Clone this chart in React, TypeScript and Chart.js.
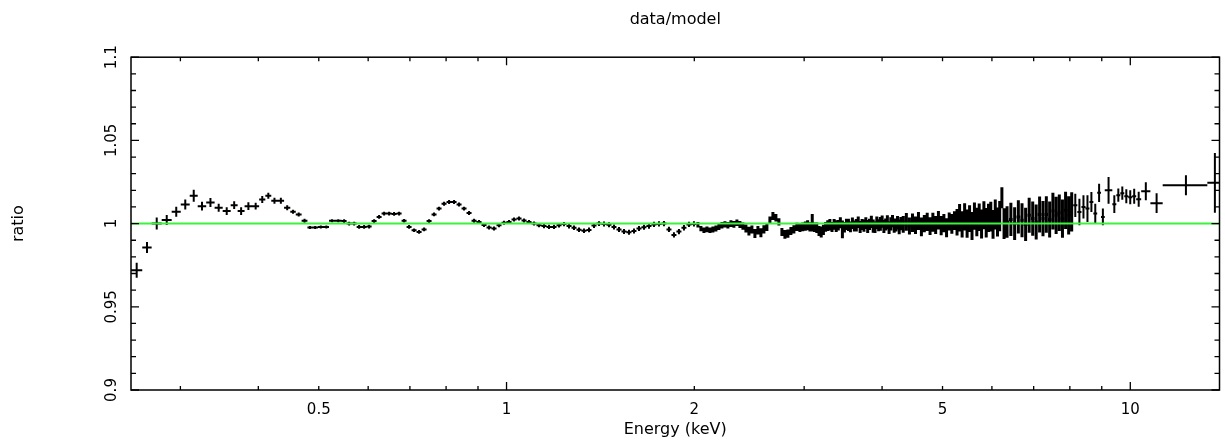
import { useEffect, useRef } from "react";
import { Chart, registerables } from "chart.js";

Chart.register(...registerables);

// ---------- data: bin edges (keV), data/model ratio, 1-sigma error ----------
const edgesLow = [0.25, 0.2606, 0.2698, 0.28, 0.2905, 0.3004, 0.3105, 0.3198, 0.33, 0.3404, 0.3507, 0.3612, 0.3706, 0.3802, 0.391, 0.4012, 0.4105, 0.4196, 0.4295, 0.4399, 0.4501, 0.4593, 0.4693, 0.4795, 0.4884, 0.4984, 0.5091, 0.5193, 0.5307, 0.544];
const ratioLow = [0.972, 0.9856, 1.0, 1.0021, 1.0071, 1.0115, 1.0167, 1.0105, 1.0127, 1.0095, 1.0075, 1.0111, 1.0075, 1.0105, 1.0105, 1.0145, 1.0167, 1.0137, 1.0137, 1.0095, 1.0071, 1.0055, 1.0017, 0.9977, 0.9977, 0.998, 0.998, 1.0017, 1.0017];
const errLow = [0.0045, 0.0033, 0.0036, 0.003, 0.003, 0.003, 0.0036, 0.0027, 0.0027, 0.0024, 0.0024, 0.0024, 0.0024, 0.0024, 0.0021, 0.0021, 0.0018, 0.0018, 0.0018, 0.0015, 0.0012, 0.0012, 0.0012, 0.0009, 0.0009, 0.0009, 0.0009, 0.0009, 0.0009];

const edgesSoft = [0.544, 0.5541, 0.5645, 0.575, 0.5857, 0.5966, 0.6077, 0.619, 0.6305, 0.6423, 0.6542, 0.6664, 0.6788, 0.6914, 0.7043, 0.7174, 0.7308, 0.7444, 0.7582, 0.7723, 0.7867, 0.8014, 0.8163, 0.8315, 0.847, 0.8627, 0.8788, 0.8952, 0.9118, 0.9288, 0.9461, 0.9637, 0.9816, 1.0, 1.0186, 1.0376, 1.0569, 1.0766, 1.0966, 1.117, 1.1378, 1.159, 1.1806, 1.2026, 1.225, 1.2478, 1.271, 1.2947, 1.3188, 1.3433, 1.3683, 1.3938, 1.4198, 1.4462, 1.4731, 1.5005, 1.5285, 1.5569, 1.5859, 1.6155, 1.6455, 1.6762, 1.7074, 1.7392, 1.7715, 1.8045, 1.8381, 1.8723, 1.9072, 1.9427, 1.9789, 2.0157];
const ratioSoft = [1.0015, 1.0, 1.0, 0.998, 0.998, 0.9982, 1.0015, 1.004, 1.006, 1.006, 1.0058, 1.006, 1.0017, 0.998, 0.996, 0.995, 0.9965, 1.0015, 1.0055, 1.009, 1.012, 1.013, 1.013, 1.0115, 1.009, 1.0063, 1.0017, 1.001, 0.9992, 0.9977, 0.997, 0.999, 1.0005, 1.001, 1.0025, 1.003, 1.0018, 1.001, 1.0, 0.999, 0.9985, 0.998, 0.998, 0.999, 0.9997, 0.9985, 0.9975, 0.9963, 0.9957, 0.9962, 0.9988, 1.0, 0.9997, 0.9993, 0.998, 0.9965, 0.9952, 0.9948, 0.9955, 0.997, 0.9978, 0.9985, 0.9995, 0.9998, 1.0, 0.9965, 0.9932, 0.9952, 0.9975, 0.9995, 0.9998];
const errSoft = [0.0011, 0.0011, 0.0011, 0.0011, 0.0011, 0.0011, 0.0011, 0.0011, 0.0011, 0.0011, 0.0011, 0.0011, 0.0011, 0.0011, 0.0011, 0.0011, 0.0011, 0.0011, 0.0011, 0.0011, 0.0012, 0.0012, 0.0012, 0.0012, 0.0012, 0.0012, 0.0012, 0.0012, 0.0012, 0.0012, 0.0012, 0.0012, 0.0012, 0.0012, 0.0012, 0.0012, 0.0012, 0.0012, 0.0012, 0.0012, 0.0013, 0.0013, 0.0013, 0.0013, 0.0013, 0.0014, 0.0014, 0.0014, 0.0014, 0.0014, 0.0014, 0.0014, 0.0015, 0.0015, 0.0015, 0.0015, 0.0015, 0.0015, 0.0015, 0.0015, 0.0015, 0.0016, 0.0016, 0.0016, 0.0016, 0.0016, 0.0016, 0.0016, 0.0016, 0.0016, 0.0016];

const edgesMid = [2.0157, 2.0381, 2.0608, 2.0838, 2.107, 2.1304, 2.1541, 2.1781, 2.2024, 2.2269, 2.2517, 2.2767, 2.3021, 2.3277, 2.3536, 2.3798, 2.4063, 2.4331, 2.4602, 2.4876, 2.5153, 2.5433, 2.5716, 2.6002, 2.6292, 2.6585, 2.6881, 2.718, 2.7483, 2.7789, 2.8098, 2.8411, 2.8727, 2.9047, 2.9371, 2.9698, 3.0];
const ratioMid = [0.9993, 0.997, 0.996, 0.9965, 0.996, 0.9965, 0.997, 0.998, 0.999, 0.9995, 0.999, 1.0, 0.9995, 1.0005, 0.9995, 0.9985, 0.997, 0.9955, 0.9965, 0.994, 0.996, 0.9945, 0.9965, 0.998, 1.002, 1.0045, 1.0035, 1.001, 0.995, 0.9935, 0.994, 0.9955, 0.9965, 0.998, 0.9975, 0.998];
const errMid = [0.0016, 0.0016, 0.0017, 0.0017, 0.0017, 0.0018, 0.0018, 0.0018, 0.0019, 0.0019, 0.0019, 0.002, 0.002, 0.002, 0.0021, 0.0022, 0.0024, 0.0026, 0.0024, 0.0027, 0.0025, 0.0027, 0.0025, 0.0024, 0.0022, 0.0024, 0.0023, 0.0022, 0.0024, 0.0026, 0.0025, 0.0024, 0.0025, 0.0025, 0.0026, 0.0026];

const edgesHard1 = [3.0, 3.026, 3.052, 3.078, 3.104, 3.13, 3.156, 3.182, 3.208, 3.234, 3.26, 3.286, 3.312, 3.338, 3.364, 3.39, 3.416, 3.442, 3.468, 3.494, 3.52, 3.546, 3.572, 3.598, 3.624, 3.65, 3.676, 3.702, 3.728, 3.754, 3.78, 3.806, 3.832, 3.858, 3.884, 3.91, 3.936, 3.962, 3.988, 4.014, 4.04, 4.066, 4.092, 4.118, 4.144, 4.17, 4.196, 4.222, 4.248, 4.274, 4.3];
const ratioHard1 = [0.9985, 0.999, 0.998, 1.0005, 0.9978, 0.9975, 0.9955, 0.995, 0.9962, 0.998, 0.9988, 0.9993, 0.998, 0.9995, 0.9985, 0.999, 1.0005, 0.9965, 0.9978, 0.9995, 0.9992, 0.998, 1.0002, 0.9985, 0.999, 1.0008, 0.998, 0.9995, 0.9988, 1.0003, 0.9982, 0.9995, 1.001, 0.9985, 0.9978, 1.0005, 0.999, 0.9998, 1.0012, 0.9983, 0.9995, 1.0008, 0.9975, 0.9998, 1.0015, 0.9988, 0.9992, 1.0005, 0.998, 1.0];
const errHard1 = [0.0028, 0.003, 0.0028, 0.0053, 0.0029, 0.0032, 0.003, 0.0033, 0.0031, 0.0029, 0.0032, 0.0034, 0.003, 0.0032, 0.0035, 0.0031, 0.0033, 0.0053, 0.0032, 0.0034, 0.0037, 0.0032, 0.0035, 0.0033, 0.0038, 0.0034, 0.0036, 0.0033, 0.0037, 0.0035, 0.0039, 0.0034, 0.0037, 0.004, 0.0035, 0.0038, 0.0036, 0.0041, 0.0037, 0.0039, 0.0036, 0.0042, 0.0038, 0.004, 0.0037, 0.0043, 0.0039, 0.0041, 0.0044, 0.004];

const edgesHard2 = [4.3, 4.35, 4.4, 4.45, 4.5, 4.55, 4.6, 4.65, 4.7, 4.75, 4.8, 4.85, 4.9, 4.95, 5.0, 5.05, 5.1, 5.15, 5.2, 5.25, 5.3, 5.35, 5.4, 5.45, 5.5, 5.55, 5.6, 5.65, 5.7, 5.75, 5.8, 5.85, 5.9, 5.95, 6.0, 6.05, 6.1, 6.15, 6.2, 6.25, 6.3];
const ratioHard2 = [0.9995, 1.001, 0.9985, 1.0005, 0.999, 1.0015, 0.998, 1.0, 1.001, 0.9985, 1.0008, 0.9992, 1.002, 0.9988, 1.0003, 0.9975, 1.0012, 0.9998, 1.0018, 1.0008, 1.0035, 0.9995, 1.004, 1.0, 1.003, 0.9985, 1.0045, 1.001, 1.0038, 0.9998, 1.005, 1.0005, 1.0035, 1.0042, 0.9995, 1.0055, 1.001, 1.0045, 1.0155, 1.0];
const errHard2 = [0.005, 0.0053, 0.0051, 0.0055, 0.0052, 0.0054, 0.0056, 0.0052, 0.0055, 0.0053, 0.0057, 0.0054, 0.0056, 0.0058, 0.0055, 0.0057, 0.0054, 0.0059, 0.0056, 0.008, 0.0083, 0.0079, 0.0082, 0.0085, 0.0081, 0.0084, 0.0082, 0.0086, 0.0083, 0.0087, 0.0084, 0.0088, 0.0085, 0.0089, 0.0086, 0.009, 0.0087, 0.0091, 0.0063, 0.0092];

const edgesHard3 = [6.3, 6.39, 6.48, 6.57, 6.66, 6.75, 6.84, 6.93, 7.02, 7.11, 7.2, 7.29, 7.38, 7.47, 7.56, 7.65, 7.74, 7.83, 7.92, 8.01, 8.1];
const ratioHard3 = [1.001, 1.0025, 1.0, 1.004, 1.002, 0.9995, 1.005, 1.003, 1.001, 1.0055, 1.003, 1.0055, 1.0025, 1.0075, 1.005, 1.0065, 1.003, 1.008, 1.005, 1.007];
const errHard3 = [0.0095, 0.01, 0.0098, 0.01, 0.0102, 0.01, 0.0105, 0.0103, 0.0105, 0.0108, 0.0106, 0.011, 0.0108, 0.011, 0.0112, 0.011, 0.0115, 0.0112, 0.0115, 0.0118];

const edgesHard4 = [8.1, 8.225, 8.35, 8.475, 8.6, 8.725, 8.85, 8.975, 9.1];
const ratioHard4 = [1.011, 1.007, 1.01, 1.009, 1.013, 1.006, 1.0185, 1.004];
const errHard4 = [0.007, 0.008, 0.007, 0.008, 0.006, 0.006, 0.0055, 0.005];

const edgesTop = [9.1, 9.358, 9.497, 9.638, 9.781, 9.927, 10.07, 10.22, 10.41, 10.77, 11.27, 13.29, 14.04];
const ratioTop = [1.02, 1.0117, 1.0171, 1.0183, 1.0165, 1.0159, 1.0165, 1.0147, 1.0195, 1.0123, 1.0231, 1.0245];
const errTop = [0.008, 0.0054, 0.004, 0.004, 0.0042, 0.0042, 0.0045, 0.0045, 0.0054, 0.006, 0.006, 0.018];

// ---------- axes ----------
const xMin = 0.25;
const xMax = 13.9;
const yMin = 0.9;
const yMax = 1.1;
const modelLevel = 1.0;
const xLabelTicks = [0.5, 1, 2, 5, 10];
const xMajorTicks = [1, 10];
const xMinorTicks = [0.3, 0.4, 0.5, 0.6, 0.7, 0.8, 0.9, 2, 3, 4, 5, 6, 7, 8, 9];
const yMajorTicks = [0.9, 0.95, 1.0, 1.05, 1.1];
const yMinorTicks = [0.91, 0.92, 0.93, 0.94, 0.96, 0.97, 0.98, 0.99, 1.01, 1.02, 1.03, 1.04, 1.06, 1.07, 1.08, 1.09];

type Segment = [number[], number[], number[]];
// sparse crosses (wide bins) and densely packed bins
const sparseSegments: Segment[] = [
  [edgesLow, ratioLow, errLow],
  [edgesSoft, ratioSoft, errSoft],
  [edgesHard4, ratioHard4, errHard4],
  [edgesTop, ratioTop, errTop],
];
const denseSegments: Segment[] = [
  [edgesMid, ratioMid, errMid],
  [edgesHard1, ratioHard1, errHard1],
  [edgesHard2, ratioHard2, errHard2],
  [edgesHard3, ratioHard3, errHard3],
];

function buildCrosses(segments: Segment[]) {
  const pts: { x: number; y: number | null }[] = [];
  for (const [edges, ratio, err] of segments) {
    const n = Math.min(ratio.length, err.length, edges.length - 1);
    for (let i = 0; i < n; i++) {
      const lo = edges[i];
      const hi = edges[i + 1];
      const c = (lo + hi) / 2;
      const r = ratio[i];
      const e = err[i];
      pts.push({ x: lo, y: r }, { x: hi, y: r }, { x: c, y: null });
      pts.push({ x: c, y: r - e }, { x: c, y: r + e }, { x: c, y: null });
    }
  }
  return pts;
}

const FONT = "'DejaVu Sans', 'Liberation Sans', sans-serif";

const frameTicksPlugin = {
  id: "frameTicks",
  afterDraw(chart: any) {
    const { ctx, chartArea } = chart;
    const { left, right, top, bottom } = chartArea;
    const xs = chart.scales.x;
    const ys = chart.scales.y;
    ctx.save();
    ctx.strokeStyle = "#000";
    ctx.lineWidth = 1.5;
    ctx.strokeRect(left, top, right - left, bottom - top);
    ctx.lineWidth = 1.3;
    ctx.beginPath();
    const xTick = (v: number, len: number) => {
      const p = xs.getPixelForValue(v);
      ctx.moveTo(p, bottom);
      ctx.lineTo(p, bottom - len);
      ctx.moveTo(p, top);
      ctx.lineTo(p, top + len);
    };
    const yTick = (v: number, len: number) => {
      const p = ys.getPixelForValue(v);
      ctx.moveTo(left, p);
      ctx.lineTo(left + len, p);
      ctx.moveTo(right, p);
      ctx.lineTo(right - len, p);
    };
    xMinorTicks.forEach((v) => xTick(v, 4));
    xMajorTicks.forEach((v) => xTick(v, 8));
    yMinorTicks.forEach((v) => yTick(v, 5));
    yMajorTicks.forEach((v) => yTick(v, 8));
    ctx.stroke();
    ctx.restore();
  },
};

export default function App() {
  const ref = useRef<HTMLCanvasElement | null>(null);

  useEffect(() => {
    if (!ref.current) return;
    Chart.defaults.color = "#000";
    Chart.defaults.font.family = FONT;
    const chart = new Chart(ref.current, {
      type: "line",
      data: {
        datasets: [
          {
            label: "model",
            data: [
              { x: xMin, y: modelLevel },
              { x: xMax, y: modelLevel },
            ],
            borderColor: "#3cf23c",
            borderWidth: 2,
            pointRadius: 0,
          },
          {
            label: "data",
            data: buildCrosses(sparseSegments) as any,
            borderColor: "#000",
            borderWidth: 2,
            pointRadius: 0,
            spanGaps: false,
            tension: 0,
            borderCapStyle: "butt",
          },
          {
            label: "data (dense bins)",
            data: buildCrosses(denseSegments) as any,
            borderColor: "#000",
            borderWidth: 3,
            pointRadius: 0,
            spanGaps: false,
            tension: 0,
            borderCapStyle: "butt",
          },
        ],
      },
      options: {
        animation: false,
        responsive: false,
        events: [],
        layout: { padding: { left: 0, right: 5.5, top: 0, bottom: 0 } },
        plugins: {
          legend: { display: false },
          tooltip: { enabled: false },
          title: {
            display: true,
            fullSize: false,
            text: "data/model",
            color: "#000",
            font: { family: FONT, size: 16, weight: "normal" },
            padding: { top: 10, bottom: 28 },
          },
        },
        scales: {
          x: {
            type: "logarithmic",
            min: xMin,
            max: xMax,
            grid: { display: false },
            border: { display: false },
            afterBuildTicks: (scale: any) => {
              scale.ticks = xLabelTicks.map((v) => ({ value: v }));
            },
            afterFit: (scale: any) => {
              scale.height = 50;
            },
            ticks: {
              autoSkip: false,
              maxRotation: 0,
              minRotation: 0,
              padding: 3,
              color: "#000",
              font: { family: FONT, size: 15 },
              callback: (v: any) => String(v),
            },
            title: {
              display: true,
              text: "Energy (keV)",
              color: "#000",
              font: { family: FONT, size: 16 },
              padding: { top: 0, bottom: 1 },
            },
          },
          y: {
            type: "linear",
            min: yMin,
            max: yMax,
            grid: { display: false },
            border: { display: false },
            afterFit: (scale: any) => {
              scale.width = 131;
            },
            ticks: {
              stepSize: 0.05,
              autoSkip: false,
              minRotation: 90,
              maxRotation: 90,
              crossAlign: "center",
              padding: -6,
              color: "#000",
              font: { family: FONT, size: 15 },
              callback: (v: any) => String(Number(Number(v).toFixed(2))),
            },
            title: {
              display: true,
              text: "ratio",
              color: "#000",
              font: { family: FONT, size: 16 },
              padding: { top: 9, bottom: 0 },
            },
          },
        },
      },
      plugins: [frameTicksPlugin],
    });
    return () => chart.destroy();
  }, []);

  return (
    <div style={{ position: "absolute", left: 0, top: 0, width: 1225, height: 440, background: "#fff" }}>
      <canvas ref={ref} width={1225} height={440} style={{ display: "block" }} />
    </div>
  );
}
